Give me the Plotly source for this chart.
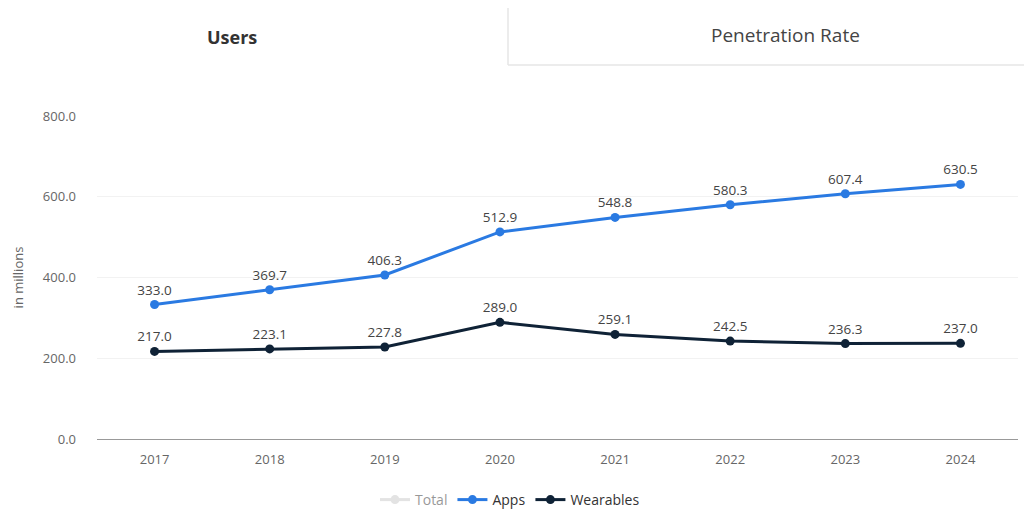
import plotly.graph_objects as go

years = ["2017", "2018", "2019", "2020", "2021", "2022", "2023", "2024"]
apps = [333.0, 369.7, 406.3, 512.9, 548.8, 580.3, 607.4, 630.5]
wearables = [217.0, 223.1, 227.8, 289.0, 259.1, 242.5, 236.3, 237.0]
total = [None] * len(years)
y_ticks = [0, 200, 400, 600, 800]
y_tick_text = ["0.0", "200.0", "400.0", "600.0", "800.0"]

APP_C = "#2a7ae2"
WEAR_C = "#0f2236"
FONT = "Open Sans"

L, R, T, B = 97, 6, 116, 77
PW, PH = 1024 - L - R, 516 - T - B


def px(x):
    return (x - L) / PW


def py(y):
    return (516 - B - y) / PH


fig = go.Figure()
fig.add_trace(go.Scatter(x=years, y=total, name="Total", mode="lines+markers",
                         line=dict(color="#c8c8c8", width=3), marker=dict(size=9),
                         visible="legendonly"))
fig.add_trace(go.Scatter(x=years, y=apps, name="Apps", mode="lines+markers+text",
                         line=dict(color=APP_C, width=3), marker=dict(size=9, color=APP_C),
                         text=[f"{v:.1f}" for v in apps], textposition="top center",
                         textfont=dict(size=13.5, color="#444", family=FONT), cliponaxis=False))
fig.add_trace(go.Scatter(x=years, y=wearables, name="Wearables", mode="lines+markers+text",
                         line=dict(color=WEAR_C, width=3), marker=dict(size=9, color=WEAR_C),
                         text=[f"{v:.1f}" for v in wearables], textposition="top center",
                         textfont=dict(size=13.5, color="#444", family=FONT), cliponaxis=False))

fig.update_layout(
    width=1024, height=516,
    margin=dict(l=L, r=R, t=T, b=B, autoexpand=False),
    paper_bgcolor="white", plot_bgcolor="white",
    font=dict(family=FONT, size=13, color="#666"),
    showlegend=True,
    legend=dict(orientation="h", x=px(510), xanchor="center", y=py(500), yanchor="middle",
                font=dict(size=14, color="#333", family=FONT), itemclick=False,
                itemwidth=30),
    xaxis=dict(type="category", range=[-0.5, 7.5], showgrid=False, showline=True,
               linecolor="#999", linewidth=1, ticks="", tickfont=dict(size=13, color="#666"),
               ticklabelstandoff=8, fixedrange=True, automargin=False),
    yaxis=dict(range=[0, 800], tickvals=y_ticks, ticktext=y_tick_text, showgrid=True,
               gridcolor="#f2f2f2", zeroline=False, showline=False,
               tickfont=dict(size=13, color="#666"), ticklabelstandoff=20,
               title=dict(text="in millions", font=dict(size=13, color="#666"), standoff=16),
               fixedrange=True, automargin=False),
    shapes=[
        dict(type="line", xref="paper", yref="paper", x0=px(508), x1=px(508),
             y0=py(8), y1=py(65), line=dict(color="#e6e6e6", width=1.5)),
        dict(type="line", xref="paper", yref="paper", x0=px(508), x1=px(1024),
             y0=py(65), y1=py(65), line=dict(color="#e6e6e6", width=1.5)),
    ],
    annotations=[
        dict(text="<b>Users</b>", xref="paper", yref="paper", x=px(232), y=py(37),
             xanchor="center", yanchor="middle",
             showarrow=False, font=dict(size=18, color="#333", family=FONT)),
        dict(text="Penetration Rate", xref="paper", yref="paper", x=px(785), y=py(35),
             xanchor="center", yanchor="middle",
             showarrow=False, font=dict(size=19, color="#444", family=FONT)),
    ],
)

fig.write_html("out.html", config={"displayModeBar": False},
               post_script="document.body.style.margin='0';document.body.style.overflow='hidden';")
